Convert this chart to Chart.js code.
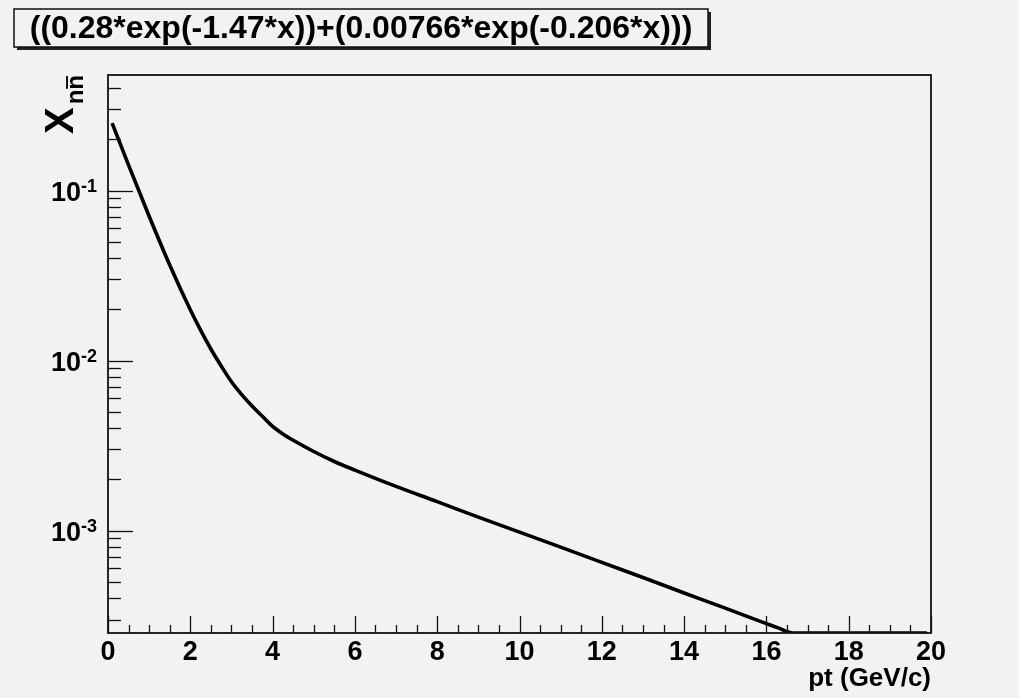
<!DOCTYPE html>
<html>
<head>
<meta charset="utf-8">
<script src="https://cdn.jsdelivr.net/npm/chart.js@4.4.0/dist/chart.umd.min.js"></script>
<style>
  html, body { margin: 0; padding: 0; background: #f2f2f2; }
</style>
</head>
<body>
<canvas id="myChart" width="1019" height="698"></canvas>
<script>
// values
var ptValues = [0.1, 0.5, 1, 1.5, 2, 2.25, 2.5, 2.75, 3, 3.25, 3.5, 3.75, 4, 4.25, 4.5, 5, 5.5, 6, 7, 8, 9, 10, 11, 12, 13, 14, 15, 16, 16.3, 16.65, 18, 19.9];
var ratioValues = [0.249, 0.141, 0.0706, 0.0365, 0.0199, 0.0151, 0.0117, 0.0093, 0.0075, 0.0063, 0.0054, 0.0047, 0.0041, 0.0037,
                   0.0034, 0.00292, 0.00255, 0.00227, 0.00182, 0.00148, 0.0012, 0.00098, 0.0008, 0.00065, 0.00053, 0.00043,
                   0.00035, 0.000284, 0.000267, 0.00025, 0.00025, 0.00025];

var xTickLabels = ['0', '2', '4', '6', '8', '10', '12', '14', '16', '18', '20'];
var yDecades = [-1, -2, -3];

var titleText = '((0.28*exp(-1.47*x))+(0.00766*exp(-0.206*x)))';
var xTitle = 'pt (GeV/c)';

var font = '"Liberation Sans", Arial, Helvetica, sans-serif';
var ink = '#111111';

var points = [];
for (var i = 0; i < ptValues.length; i++) {
    points.push({x: ptValues[i], y: ratioValues[i]});
}

var rootAxes = {
    id: 'rootAxes',
    beforeDraw: function (chart) {
        var ctx = chart.ctx;
        ctx.save();
        ctx.fillStyle = '#f2f2f2';
        ctx.fillRect(0, 0, chart.width, chart.height);
        ctx.restore();
    },
    afterDatasetsDraw: function (chart) {
        var ctx = chart.ctx;
        var a = chart.chartArea;
        var xs = chart.scales.x;
        var ys = chart.scales.y;

        ctx.save();
        ctx.strokeStyle = ink;
        ctx.lineWidth = 1.8;
        ctx.strokeRect(a.left, a.top, a.right - a.left, a.bottom - a.top);

        // x ticks (inside the frame)
        ctx.lineWidth = 1.3;
        for (var v = 0; v <= 20; v += 0.5) {
            var px = Math.round(xs.getPixelForValue(v)) + 0.5;
            var len = (v % 2 === 0) ? 17 : 8;
            ctx.beginPath();
            ctx.moveTo(px, a.bottom);
            ctx.lineTo(px, a.bottom - len);
            ctx.stroke();
        }

        // y ticks, log decades
        for (var k = -4; k <= -1; k++) {
            for (var m = 1; m <= 9; m++) {
                var val = m * Math.pow(10, k);
                if (val < ys.min || val > ys.max) continue;
                var py = Math.round(ys.getPixelForValue(val)) + 0.5;
                var l = (m === 1) ? 25 : 13;
                ctx.beginPath();
                ctx.moveTo(a.left, py);
                ctx.lineTo(a.left + l, py);
                ctx.stroke();
            }
        }

        ctx.fillStyle = '#000';

        // x tick labels
        ctx.font = 'bold 27px ' + font;
        ctx.textAlign = 'center';
        ctx.textBaseline = 'alphabetic';
        xTickLabels.forEach(function (t) {
            ctx.fillText(t, xs.getPixelForValue(Number(t)), a.bottom + 27);
        });

        // y tick labels 10^k
        yDecades.forEach(function (d) {
            var py = ys.getPixelForValue(Math.pow(10, d));
            ctx.font = 'bold 27px ' + font;
            ctx.textAlign = 'right';
            ctx.fillText('10', a.left - 27, py + 10);
            ctx.font = 'bold 18px ' + font;
            ctx.textAlign = 'left';
            ctx.fillText(String(d), a.left - 27, py + 1);
        });

        // x axis title
        ctx.font = 'bold 26px ' + font;
        ctx.textAlign = 'right';
        ctx.fillText(xTitle, a.right, a.bottom + 53);

        // y axis title X_{n nbar}, rotated
        ctx.save();
        ctx.translate(a.left - 35, a.top);
        ctx.rotate(-Math.PI / 2);
        ctx.font = 'bold 24px ' + font;
        var wSub = ctx.measureText('nn').width;
        var wN = ctx.measureText('n').width;
        ctx.font = 'bold 40px ' + font;
        var wX = ctx.measureText('X').width;
        ctx.textAlign = 'left';
        ctx.fillText('X', -(wX + wSub + 3), 0);
        ctx.font = 'bold 24px ' + font;
        ctx.fillText('nn', -wSub, 10);
        ctx.lineWidth = 2;
        ctx.beginPath();
        ctx.moveTo(-wN + 1, -6);
        ctx.lineTo(-1, -6);
        ctx.stroke();
        ctx.restore();

        // title box with shadow
        var bx = 14, by = 9, bw = 694, bh = 38;
        ctx.fillStyle = '#222';
        ctx.fillRect(bx + 3, by + 3, bw, bh);
        ctx.fillStyle = '#f2f2f2';
        ctx.fillRect(bx, by, bw, bh);
        ctx.lineWidth = 1.5;
        ctx.strokeStyle = ink;
        ctx.strokeRect(bx, by, bw, bh);
        ctx.fillStyle = '#000';
        ctx.font = 'bold 32px ' + font;
        ctx.textAlign = 'center';
        ctx.textBaseline = 'middle';
        ctx.fillText(titleText, bx + bw / 2, by + bh / 2 + 1);

        ctx.restore();
    }
};

var ctx = document.getElementById('myChart');

var chart = new Chart(ctx, {
    type: 'scatter',
    data: {
        datasets: [{
            label: 'f(pt)',
            data: points,
            showLine: true,
            borderColor: '#000',
            borderWidth: 3.6,
            pointRadius: 0,
            cubicInterpolationMode: 'monotone'
        }]
    },
    options: {
        responsive: false,
        animation: false,
        devicePixelRatio: 1,
        layout: {padding: {left: 108, right: 88, top: 75, bottom: 65}},
        plugins: {legend: {display: false}, tooltip: {enabled: false}, title: {display: false}},
        scales: {
            x: {type: 'linear', min: 0, max: 20, display: false},
            y: {type: 'logarithmic', min: 0.00025, max: 0.478, display: false}
        }
    },
    plugins: [rootAxes]
});
</script>
</body>
</html>
